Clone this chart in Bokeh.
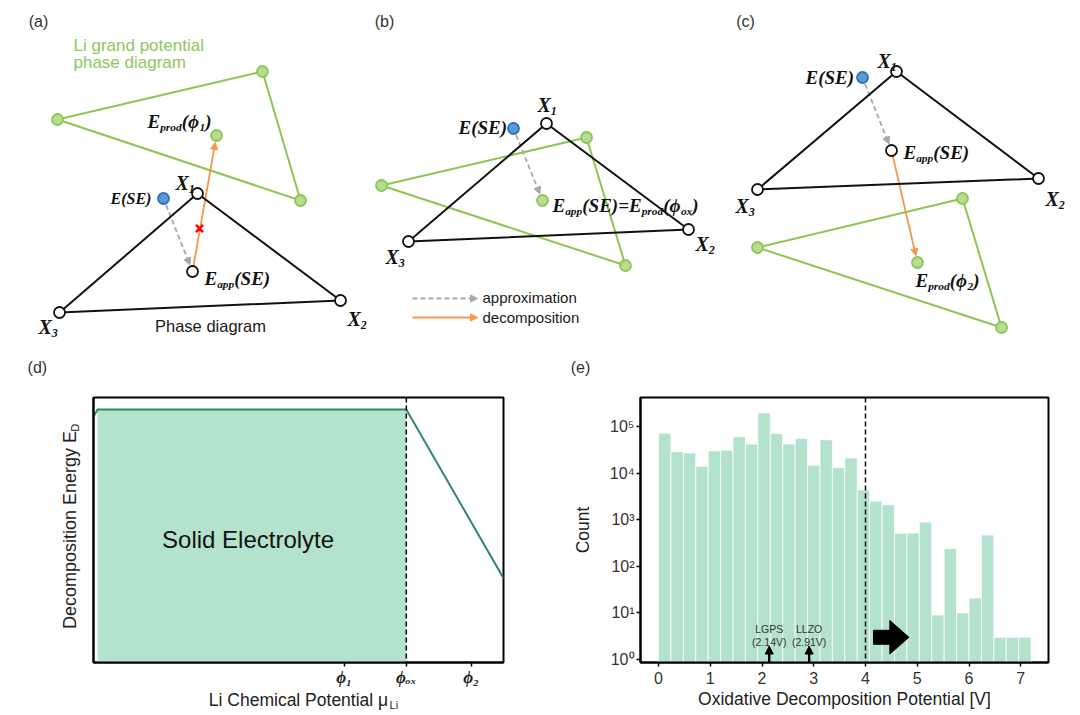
import math
from bokeh.plotting import figure
from bokeh.models import Range1d, Arrow, NormalHead, Span, Label, FixedTicker
from bokeh.layouts import column, row
from bokeh.embed import file_html
from bokeh.resources import INLINE
from bokeh.core.properties import value

# ------------------------------------------------------------------ data
# (e) histogram of oxidative decomposition potentials
bin_width = 0.24
bin_left = [0.00, 0.24, 0.48, 0.72, 0.96, 1.20, 1.44, 1.68, 1.92, 2.16,
            2.40, 2.64, 2.88, 3.12, 3.36, 3.60, 3.84, 4.08, 4.32, 4.56,
            4.80, 5.04, 5.28, 5.52, 5.76, 6.00, 6.24, 6.48, 6.72, 6.96]
counts = [72000, 29000, 27000, 14000, 30000, 31000, 60000, 42000, 195000, 71000,
          42000, 56000, 14700, 52000, 13200, 21000, 4350, 2500, 2100, 510,
          520, 890, 9, 240, 10, 21, 470, 3, 3, 3]
e_xticks = [0, 1, 2, 3, 4, 5, 6, 7]
e_yticks = [1, 10, 100, 1000, 10000, 100000]
e_ytick_labels = ["10⁰", "10¹", "10²", "10³", "10⁴", "10⁵"]
threshold_v = 4.0
ref_names = ["LGPS", "LLZO"]
ref_values = [2.14, 2.91]
ref_labels = ["(2.14V)", "(2.91V)"]

# (d) decomposition energy vs Li chemical potential (schematic)
mu_li = [0.0, 0.01, 0.763, 1.0]
e_d = [0.927, 0.955, 0.955, 0.318]
phi_pos = [0.611, 0.763, 0.921]
phi_labels = ["ϕ₁", "ϕₒₓ", "ϕ₂"]
phi_ox = 0.763

# (a)-(c) phase-diagram schematics (page pixel coordinates)
a_black_x = [197, 340, 59];  a_black_y = [193, 300, 312]
a_green_x = [262, 57, 300];  a_green_y = [71, 119, 200]
a_ese = (163, 198); a_eapp = (192, 271); a_eprod = (216, 135); a_cross = (199, 228)

b_black_x = [546, 688, 408]; b_black_y = [123, 229, 241]
b_green_x = [586, 381, 625]; b_green_y = [137, 185, 265]
b_ese = (513, 128); b_eapp = (542, 200)

c_black_x = [896, 1038, 757]; c_black_y = [71, 178, 189]
c_green_x = [962, 757, 1001]; c_green_y = [198, 247, 327]
c_ese = (862, 77); c_eapp = (891, 150); c_eprod = (917, 262)

# ------------------------------------------------------------------ styles
BLACK = "#111111"
GREEN_L = "#8cc652"
GREEN_F = "#b9dc94"
GREEN_T = "#8fc75a"
BLUE_F = "#5b9bd5"
BLUE_L = "#2f6fb3"
ORANGE = "#f5964c"
GREY = "#a8a8a8"
MINT = "#b3e2cd"
DARKG = "#2f8a64"

TBW = {'E': .667, 'S': .556, 'X': .667, '(': .333, ')': .333, '=': .570,
       'a': .5, 'p': .5, 'r': .389, 'o': .5, 'd': .5, 'x': .5,
       '1': .5, '2': .5, '3': .5, 'ϕ': .6}


def sans(p, x, y, s, size, color="#222222", align="center"):
    p.text(x=[x], y=[y], text=[s], text_font=value("Liberation Sans"),
           text_font_size=f"{size}px", text_color=color, text_align=align,
           text_baseline="middle")


def rich(p, x, y, parts, size):
    for s, sub in parts:
        fs = size * 0.6 if sub else size
        yy = y + 0.3 * size if sub else y
        p.text(x=[x], y=[yy], text=[s], text_font=value("Liberation Serif"),
               text_font_style="bold italic", text_font_size=f"{fs:.1f}px",
               text_color=BLACK, text_align="left", text_baseline="middle")
        x += sum(TBW.get(ch, .5) for ch in s) * fs


def seg(p0, p1, d0, d1):
    dx, dy = p1[0] - p0[0], p1[1] - p0[1]
    L = math.hypot(dx, dy)
    ux, uy = dx / L, dy / L
    return (p0[0] + ux * d0, p0[1] + uy * d0, p1[0] - ux * d1, p1[1] - uy * d1)


def arrow(p, p0, p1, color, dash="solid", d0=7, d1=7, width=1.8):
    x0, y0, x1, y1 = seg(p0, p1, d0, d1)
    p.add_layout(Arrow(x_start=x0, y_start=y0, x_end=x1, y_end=y1,
                       line_color=color, line_width=width, line_dash=dash,
                       level="underlay",
                       end=NormalHead(size=7, fill_color=color, line_color=color)))


def side_label(p, x, y, text, size, **kw):
    # labels kept in a side panel are not clipped to the frame
    p.add_layout(Label(x=x, y=y, text=text, text_font="Liberation Sans",
                       text_font_size=size, text_color=kw.pop("color", "#222222"),
                       text_baseline="middle", **kw), "left")


# ------------------------------------------------------------------ top row (a)-(c)
top = figure(width=1080, height=348, x_range=Range1d(0, 1080), y_range=Range1d(348, 0),
             output_backend="svg", toolbar_location=None,
             x_axis_location=None, y_axis_location=None, min_border=0,
             outline_line_color=None)
top.grid.visible = False

markers = []
for gx, gy, bx, by in [(a_green_x, a_green_y, a_black_x, a_black_y),
                       (b_green_x, b_green_y, b_black_x, b_black_y),
                       (c_green_x, c_green_y, c_black_x, c_black_y)]:
    top.line(gx + gx[:1], gy + gy[:1], line_color=GREEN_L, line_width=2)
    top.line(bx + bx[:1], by + by[:1], line_color=BLACK, line_width=2)
    markers.append((gx, gy, GREEN_F, GREEN_L))
    markers.append((bx, by, "white", BLACK))

# arrows
arrow(top, a_ese, a_eapp, GREY, dash="5 3")
arrow(top, a_eapp, a_eprod, ORANGE, d0=5)
arrow(top, b_ese, b_eapp, GREY, dash="5 3")
arrow(top, c_ese, c_eapp, GREY, dash="5 3")
arrow(top, c_eapp, c_eprod, ORANGE, d0=5)
# legend arrows
arrow(top, (412, 298), (477, 298), GREY, dash="5 3", d0=0, d1=0)
arrow(top, (412, 317), (477, 317), ORANGE, d0=0, d1=0)

markers.append(([a_eprod[0], b_eapp[0], c_eprod[0]], [a_eprod[1], b_eapp[1], c_eprod[1]], GREEN_F, GREEN_L))
markers.append(([a_eapp[0], c_eapp[0]], [a_eapp[1], c_eapp[1]], "white", BLACK))
markers.append(([a_ese[0], b_ese[0], c_ese[0]], [a_ese[1], b_ese[1], c_ese[1]], BLUE_F, BLUE_L))
for xs, ys, f, l in markers:
    top.scatter(xs, ys, size=11, fill_color=f, line_color=l, line_width=1.8)

top.scatter([a_cross[0]], [a_cross[1]], marker="x", size=10, line_color="red", line_width=2.5)

# panel letters and texts
sans(top, 38, 21, "(a)", 16, "#333333")
sans(top, 384, 21, "(b)", 16, "#333333")
sans(top, 745, 21, "(c)", 16, "#333333")
sans(top, 73, 45, "Li grand potential", 17, GREEN_T, "left")
sans(top, 73, 62, "phase diagram", 17, GREEN_T, "left")
sans(top, 210, 325, "Phase diagram", 16.5, "#1a1a1a")
sans(top, 482, 297, "approximation", 15, "#1a1a1a", "left")
sans(top, 482, 317, "decomposition", 15, "#1a1a1a", "left")

EPROD = lambda n: [("E", 0), ("prod", 1), ("(ϕ", 0), (n, 1), (")", 0)]
EAPP = [("E", 0), ("app", 1), ("(SE)", 0)]
X = lambda n: [("X", 0), (n, 1)]

# (a)
rich(top, 147, 121, EPROD("1"), 19)
rich(top, 110, 198, [("E(SE)", 0)], 16)
rich(top, 204, 278, EAPP, 19)
rich(top, 175, 182, X("1"), 20)
rich(top, 347, 318, X("2"), 20)
rich(top, 38, 326, X("3"), 20)
# (b)
rich(top, 537, 104, X("1"), 20)
rich(top, 695, 243, X("2"), 20)
rich(top, 385, 256, X("3"), 20)
rich(top, 458, 127, [("E(SE)", 0)], 19)
rich(top, 552, 205, EAPP + [("=E", 0), ("prod", 1), ("(ϕ", 0), ("ox", 1), (")", 0)], 19)
# (c)
rich(top, 877, 60, X("1"), 20)
rich(top, 1045, 198, X("2"), 20)
rich(top, 735, 205, X("3"), 20)
rich(top, 805, 77, [("E(SE)", 0)], 19)
rich(top, 903, 152, EAPP, 19)
rich(top, 915, 280, EPROD("2"), 19)

# ------------------------------------------------------------------ (d)
pd_ = figure(width=540, height=366, x_range=Range1d(0, 1), y_range=Range1d(0, 1),
             output_backend="svg", toolbar_location=None,
             min_border_left=93, min_border_right=37, min_border_top=49, min_border_bottom=51)
pd_.grid.visible = False
pd_.outline_line_color = "black"
pd_.outline_line_width = 2
pd_.varea(x=mu_li[1:3], y1=[0, 0], y2=e_d[1:3], fill_color=MINT)
pd_.line(mu_li, e_d, line_color=DARKG, line_width=2)
pd_.add_layout(Span(location=phi_ox, dimension="height", line_color="black",
                    line_width=1.5, line_dash="5 3"))
pd_.text(x=[0.377], y=[0.466], text=["Solid Electrolyte"], text_font=value("Liberation Sans"),
         text_font_size="24px", text_color="#111111", text_align="center", text_baseline="middle")

xa = pd_.xaxis[0]
xa.ticker = FixedTicker(ticks=phi_pos)
xa.major_label_overrides = {k: v for k, v in zip(phi_pos, phi_labels)}
xa.major_label_text_font = "Liberation Serif"
xa.major_label_text_font_style = "bold italic"
xa.major_label_text_font_size = "17px"
xa.major_label_text_color = "#222222"
xa.major_label_standoff = 1
xa.major_tick_out = 4
xa.major_tick_in = 0
xa.minor_tick_line_color = None
xa.axis_line_width = 2
xa.major_tick_line_width = 1.5
xa.axis_label = "Li Chemical Potential μ"
xa.axis_label_text_font = "Liberation Sans"
xa.axis_label_text_font_style = "normal"
xa.axis_label_text_font_size = "17.5px"
xa.axis_label_text_color = "#222222"
xa.axis_label_standoff = 0

ya = pd_.yaxis[0]
ya.ticker = FixedTicker(ticks=[])
ya.major_tick_line_color = None
ya.minor_tick_line_color = None
ya.axis_line_width = 2
ya.axis_label = "Decomposition Energy E"
ya.axis_label_text_font = "Liberation Sans"
ya.axis_label_text_font_style = "normal"
ya.axis_label_text_font_size = "18px"
ya.axis_label_text_color = "#222222"
ya.axis_label_standoff = 14

side_label(pd_, 0.722, -0.162, "Li", "11px")
side_label(pd_, -0.044, 0.886, "D", "11px", angle=math.pi / 2, text_align="center")
side_label(pd_, -0.137, 1.113, "(d)", "16px", color="#333333", text_align="center")

# ------------------------------------------------------------------ (e)
pe = figure(width=540, height=366, x_range=Range1d(-0.348, 7.536), y_range=Range1d(0.863, 4.19e5),
            y_axis_type="log", output_backend="svg", toolbar_location=None,
            min_border_left=100, min_border_right=32, min_border_top=49, min_border_bottom=52)
pe.grid.visible = False
pe.outline_line_color = "black"
pe.outline_line_width = 2
pe.quad(left=bin_left, right=[l + bin_width for l in bin_left], bottom=0.5, top=counts,
        fill_color=MINT, line_color="white", line_width=0.8)
pe.add_layout(Span(location=threshold_v, dimension="height", line_color="black",
                   line_width=1.5, line_dash="5 3"))

for name, v, lab in zip(ref_names, ref_values, ref_labels):
    pe.add_layout(Arrow(x_start=v, y_start=0.87, x_end=v, y_end=1.95, line_color="black",
                        line_width=2.5, end=NormalHead(size=8, fill_color="black", line_color="black")))
    pe.text(x=[v], y=[4.6], text=[name], text_font=value("Liberation Sans"), text_font_size="10.5px",
            text_color="#333333", text_align="center", text_baseline="middle")
    pe.text(x=[v], y=[2.43], text=[lab], text_font=value("Liberation Sans"), text_font_size="10.5px",
            text_color="#333333", text_align="center", text_baseline="middle")

# big arrow pointing to higher potentials
ax0, ax1, ax2, ayc = 4.155, 4.47, 4.84, 3.0
lb, lh = 0.15, 0.36
ly = math.log10(ayc)
pe.patch([ax0, ax1, ax1, ax2, ax1, ax1, ax0],
         [10 ** (ly - lb), 10 ** (ly - lb), 10 ** (ly - lh), ayc, 10 ** (ly + lh), 10 ** (ly + lb), 10 ** (ly + lb)],
         fill_color="black", line_color="black")

ex = pe.xaxis[0]
ex.ticker = FixedTicker(ticks=e_xticks)
ex.minor_tick_line_color = None
ex.major_tick_out = 4
ex.major_tick_in = 0
ex.axis_line_width = 2
ex.major_tick_line_width = 1.5
ex.major_label_text_font = "Liberation Sans"
ex.major_label_text_font_size = "16px"
ex.major_label_text_color = "#333333"
ex.axis_label = "Oxidative Decomposition Potential [V]"
ex.axis_label_text_font = "Liberation Sans"
ex.axis_label_text_font_style = "normal"
ex.axis_label_text_font_size = "17.5px"
ex.axis_label_text_color = "#222222"
ex.axis_label_standoff = 2

ey = pe.yaxis[0]
ey.ticker = FixedTicker(ticks=e_yticks)
ey.major_label_overrides = {k: v for k, v in zip(e_yticks, e_ytick_labels)}
ey.minor_tick_line_color = None
ey.major_tick_out = 4
ey.major_tick_in = 0
ey.major_label_standoff = 2
ey.axis_line_width = 2
ey.major_tick_line_width = 1.5
ey.major_label_text_font = "Liberation Sans"
ey.major_label_text_font_size = "16px"
ey.major_label_text_color = "#333333"
ey.axis_label = "Count"
ey.axis_label_text_font = "Liberation Sans"
ey.axis_label_text_font_style = "normal"
ey.axis_label_text_font_size = "17.5px"
ey.axis_label_text_color = "#222222"
ey.axis_label_standoff = 14

side_label(pe, -1.507, 1.85e6, "(e)", "16px", color="#333333", text_align="center")

layout = column(top, row(pd_, pe))
open("out.html", "w").write(file_html(layout, INLINE))
